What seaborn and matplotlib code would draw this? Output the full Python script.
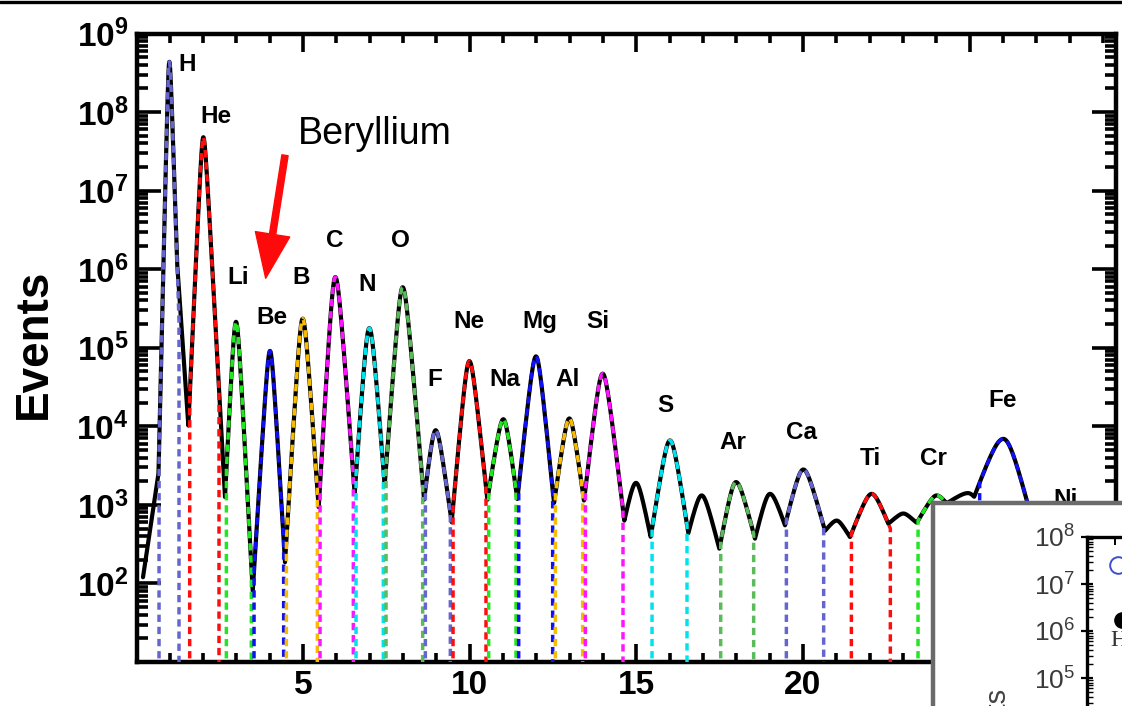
import numpy as np
import matplotlib
matplotlib.use("Agg")
import matplotlib.pyplot as plt
import seaborn as sns
from matplotlib.ticker import MultipleLocator, LogLocator, NullFormatter
from matplotlib.lines import Line2D

# ---------------- data ----------------
# peak components of the charge spectrum: centre (Z), log10(peak events),
# left / right valley anchors (Z, log10 events) and roundness of the peak top
comp_name  = ["H", "H_tail_lo", "H_tail_hi", "He", "Li", "Be", "B", "C", "N", "O", "F", "Ne", "Na", "Mg", "Al", "Si",
              "P", "S", "Cl", "Ar", "K", "Ca", "Sc", "Ti", "V", "Cr", "Mn", "Fe", "Ni"]
comp_z     = [0.99, 0.99, 0.99, 2.01, 2.99, 4.01, 4.99, 5.97, 6.99, 7.99, 8.98, 9.99, 11.01, 11.99, 12.99, 13.99,
              14.99, 16.01, 16.96, 17.99, 19.01, 20.01, 21.01, 22.06, 23.01, 24.01, 24.95, 26.01, 28.0]
comp_logpk = [8.64, 4.20, 7.25, 7.68, 5.33, 4.96, 5.37, 5.90, 5.25, 5.77, 3.95, 4.83, 4.09, 4.89, 4.10, 4.67,
              3.28, 3.82, 3.12, 3.29, 3.14, 3.45, 2.80, 3.14, 2.89, 3.12, 3.15, 3.84, 2.85]
left_z     = [0.66, 0.26, 0.90, 1.56, 2.66, 3.49, 4.46, 5.47, 6.55, 7.45, 8.63, 9.46, 10.53, 11.43, 12.53, 13.43,
              14.64, 15.43, 16.56, 17.49, 18.56, 19.46, 20.66, 21.41, 22.56, 23.41, 24.31, 25.00, 27.10]
left_log   = [3.31, 2.25, 5.00, 4.01, 3.10, 1.89, 2.27, 2.96, 3.14, 3.25, 3.06, 2.78, 3.06, 3.07, 3.02, 3.05,
              2.80, 2.59, 2.64, 2.44, 2.57, 2.74, 2.67, 2.59, 2.76, 2.77, 3.02, 2.95, 2.44]
right_z    = [1.24, 1.30, 1.56, 2.66, 3.49, 4.46, 5.47, 6.55, 7.45, 8.63, 9.46, 10.53, 11.43, 12.53, 13.43, 14.64,
              15.43, 16.56, 17.49, 18.56, 19.46, 20.66, 21.41, 22.56, 23.41, 24.31, 25.50, 27.10, 28.90]
right_log  = [5.86, 1.50, 4.01, 3.10, 1.89, 2.27, 2.96, 3.14, 3.25, 3.06, 2.78, 3.06, 3.07, 3.02, 3.05, 2.80,
              2.59, 2.64, 2.44, 2.57, 2.74, 2.67, 2.59, 2.76, 2.77, 3.02, 2.90, 2.44, 2.00]
comp_round = [0.04, 0.05, 0.05, 0.06, 0.08, 0.08, 0.10, 0.12, 0.12, 0.12, 0.12, 0.12, 0.12, 0.12, 0.12, 0.14,
              0.14, 0.15, 0.15, 0.16, 0.16, 0.18, 0.12, 0.18, 0.12, 0.15, 0.20, 0.30, 0.25]

# labelled elements with their fit ranges (dashed curves)
elem_name = ["H", "He", "Li", "Be", "B", "C", "N", "O", "F", "Ne", "Na", "Mg", "Al", "Si",
             "S", "Ar", "Ca", "Ti", "Cr", "Fe", "Ni"]
fit_lo = [0.68, 1.60, 2.70, 3.53, 4.50, 5.51, 6.59, 7.49, 8.67, 9.50, 10.57, 11.47, 12.57, 13.47,
          15.47, 17.53, 19.50, 21.45, 23.45, 25.30, 27.14]
fit_hi = [1.28, 2.48, 3.45, 4.42, 5.43, 6.51, 7.41, 8.59, 9.42, 10.49, 11.39, 12.49, 13.39, 14.60,
          16.52, 18.52, 20.62, 22.62, 24.27, 26.75, 28.86]

# inset (partly visible) data
inset_open_x = [1.1, 1.65]
inset_open_log = [7.40, 7.09]
inset_fill_x = [1.25]
inset_fill_log = [6.23]

# ---------------- layout / style (not data) ----------------
label_z = [1.52, 2.39, 3.05, 4.07, 4.94, 5.96, 6.92, 7.91, 8.96, 9.98, 11.06, 12.11, 12.95, 13.85,
           15.86, 17.90, 19.97, 22.01, 23.90, 26.00, 27.89]
label_log = [8.60, 7.94, 5.89, 5.38, 5.89, 6.37, 5.80, 6.37, 4.59, 5.33, 4.59, 5.33, 4.59, 5.33,
             4.26, 3.80, 3.92, 3.59, 3.59, 4.33, 3.07]
palette = ["#6565cf", "#ff0d0d", "#22e622", "#1010f5", "#f7bb00", "#ff14ff", "#00e3ea", "#5bbb5b"]

sns.set_style("ticks")
plt.rcParams["font.family"] = ["Liberation Sans", "DejaVu Sans"]
plt.rcParams["axes.linewidth"] = 3.2
plt.rcParams["text.color"] = "black"
plt.rcParams["axes.edgecolor"] = "black"
plt.rcParams["xtick.color"] = "black"
plt.rcParams["ytick.color"] = "black"
plt.rcParams["axes.labelcolor"] = "black"


def log_profile(x, k):
    c, L, w = comp_z[k], comp_logpk[k], comp_round[k]

    def shape(d):
        return np.sqrt(d ** 2 + w ** 2) - w

    sl = (L - left_log[k]) / shape(c - left_z[k])
    sr = (L - right_log[k]) / shape(right_z[k] - c)
    d = np.asarray(x) - c
    return L - np.where(d < 0, sl, sr) * shape(d)


fig = plt.figure(figsize=(11.22, 7.06), dpi=100)
ax = fig.add_axes([137 / 1122, 1 - 662 / 706, (1116 - 137) / 1122, (662 - 33.5) / 706])

# measured spectrum (black)
z_grid = np.arange(0.2, 29.4, 0.004)
log_all = np.max([log_profile(z_grid, k) for k in range(len(comp_name))], axis=0)
sns.lineplot(x=z_grid, y=10 ** log_all, ax=ax, color="black", lw=3.0,
             estimator=None, sort=False, zorder=2)

# fitted element curves (coloured dashes)
for i, name in enumerate(elem_name):
    k = comp_name.index(name)
    zs = np.linspace(fit_lo[i], fit_hi[i], 400)
    ys = 10 ** log_profile(zs, k)
    xf = np.concatenate([[fit_lo[i]], zs, [fit_hi[i]]])
    yf = np.concatenate([[1.0], ys, [1.0]])
    sns.lineplot(x=xf, y=yf, ax=ax, color=palette[i % len(palette)], lw=2.5,
                 linestyle=(0, (2.1, 1.4)), estimator=None, sort=False, zorder=3)

ax.set_yscale("log")
ax.set_xlim(0.02, 29.39)
ax.set_ylim(10, 1e9)
ax.set_xlabel("")
ax.set_ylabel("")

ax.set_xticks([5, 10, 15, 20, 25], labels=["5", "10", "15", "20", "25"],
              fontsize=24, fontweight="bold", color="black")
ax.xaxis.set_minor_locator(MultipleLocator(1))
yt = [10.0 ** e for e in range(2, 10)]
ax.set_yticks(yt, labels=[r"$\mathdefault{10^{%d}}$" % e for e in range(2, 10)],
              fontsize=24, fontweight="bold", color="black")
ax.yaxis.set_minor_locator(LogLocator(base=10, subs=np.arange(2, 10), numticks=30))
ax.yaxis.set_minor_formatter(NullFormatter())

ax.tick_params(which="both", direction="in", top=True, right=True, width=2.6, color="black")
ax.tick_params(axis="y", which="major", length=17, pad=6)
ax.tick_params(axis="y", which="minor", length=8)
ax.tick_params(axis="x", which="major", length=13, pad=6)
ax.tick_params(axis="x", which="minor", length=6.5)
for s in ax.spines.values():
    s.set_linewidth(3.2)
    s.set_color("black")

# element labels
for i, name in enumerate(elem_name):
    ax.text(label_z[i], 10 ** label_log[i], name, fontsize=17.5, fontweight="bold",
            ha="center", va="center", color="black")

# Beryllium annotation
ax.annotate("", xy=(3.88, 10 ** 5.885), xytext=(4.46, 10 ** 7.45),
            arrowprops=dict(facecolor="#ff0a0a", edgecolor="#ff0a0a", width=4.5,
                            headwidth=25, headlength=32, shrink=0.0))
ax.text(4.85, 10 ** 7.72, "Beryllium", fontsize=27, ha="left", va="center", color="black")

fig.text(34 / 1122, 1 - 344 / 706, "Events", rotation=90, ha="center", va="center",
         fontsize=33, fontweight="bold", color="black")

# top border line of the original figure
fig.add_artist(Line2D([0, 1], [1 - 1.5 / 706] * 2, transform=fig.transFigure,
                      color="black", lw=2.4))

# ---------------- inset (cut off by the figure edge) ----------------
frame = fig.add_axes([933 / 1122, -0.3, 0.4, 0.3 + (706 - 503) / 706])
frame.set_zorder(5)
frame.set_facecolor("white")
frame.set_xticks([])
frame.set_yticks([])
for s in frame.spines.values():
    s.set_color("#6b6b6b")
    s.set_linewidth(3.2)
frame.text(996 / 1122, 1 - 686 / 706, "Events", transform=fig.transFigure, rotation=90,
           ha="center", va="top", fontsize=21, color="#444444")

inner_h = 0.3 + (706 - 537) / 706
inner = fig.add_axes([1087 / 1122, -0.3, 0.25, inner_h])
inner.set_zorder(6)
inner.set_facecolor("none")
inner.set_yscale("log")
decades = inner_h * 706 / 47.0
inner.set_ylim(10 ** (8 - decades), 1e8)
inner.set_xlim(0, 10)
inner.plot(inset_open_x, [10 ** v for v in inset_open_log], "o", mfc="none",
           mec="#3d4fd0", ms=12, mew=1.4)
inner.plot(inset_fill_x, [10 ** v for v in inset_fill_log], "o", color="black", ms=11)
inner.text(1.12, 10 ** 5.8, "H", family="Liberation Serif", fontsize=17, color="#333333",
           ha="center", va="center")
inner.set_yticks([10.0 ** e for e in range(0, 9)],
                 labels=[r"$\mathdefault{10^{%d}}$" % e for e in range(0, 9)],
                 fontsize=19, color="#3a3a3a", fontweight="normal")
inner.yaxis.set_minor_locator(LogLocator(base=10, subs=np.arange(2, 10), numticks=30))
inner.yaxis.set_minor_formatter(NullFormatter())
inner.set_xticks([1, 2, 3], labels=["", "", ""])
inner.tick_params(axis="y", which="major", direction="inout", length=9, width=1.6, pad=4,
                  color="black")
inner.tick_params(axis="y", which="minor", direction="in", length=4, width=1.0, color="black")
inner.tick_params(axis="x", which="major", direction="in", length=6, width=1.4,
                  top=True, bottom=False, color="black")
inner.spines["left"].set_linewidth(2.4)
inner.spines["top"].set_linewidth(2.4)
inner.spines["left"].set_color("black")
inner.spines["top"].set_color("black")
inner.spines["right"].set_visible(False)
inner.spines["bottom"].set_visible(False)

fig.savefig("out.png", dpi=100)
